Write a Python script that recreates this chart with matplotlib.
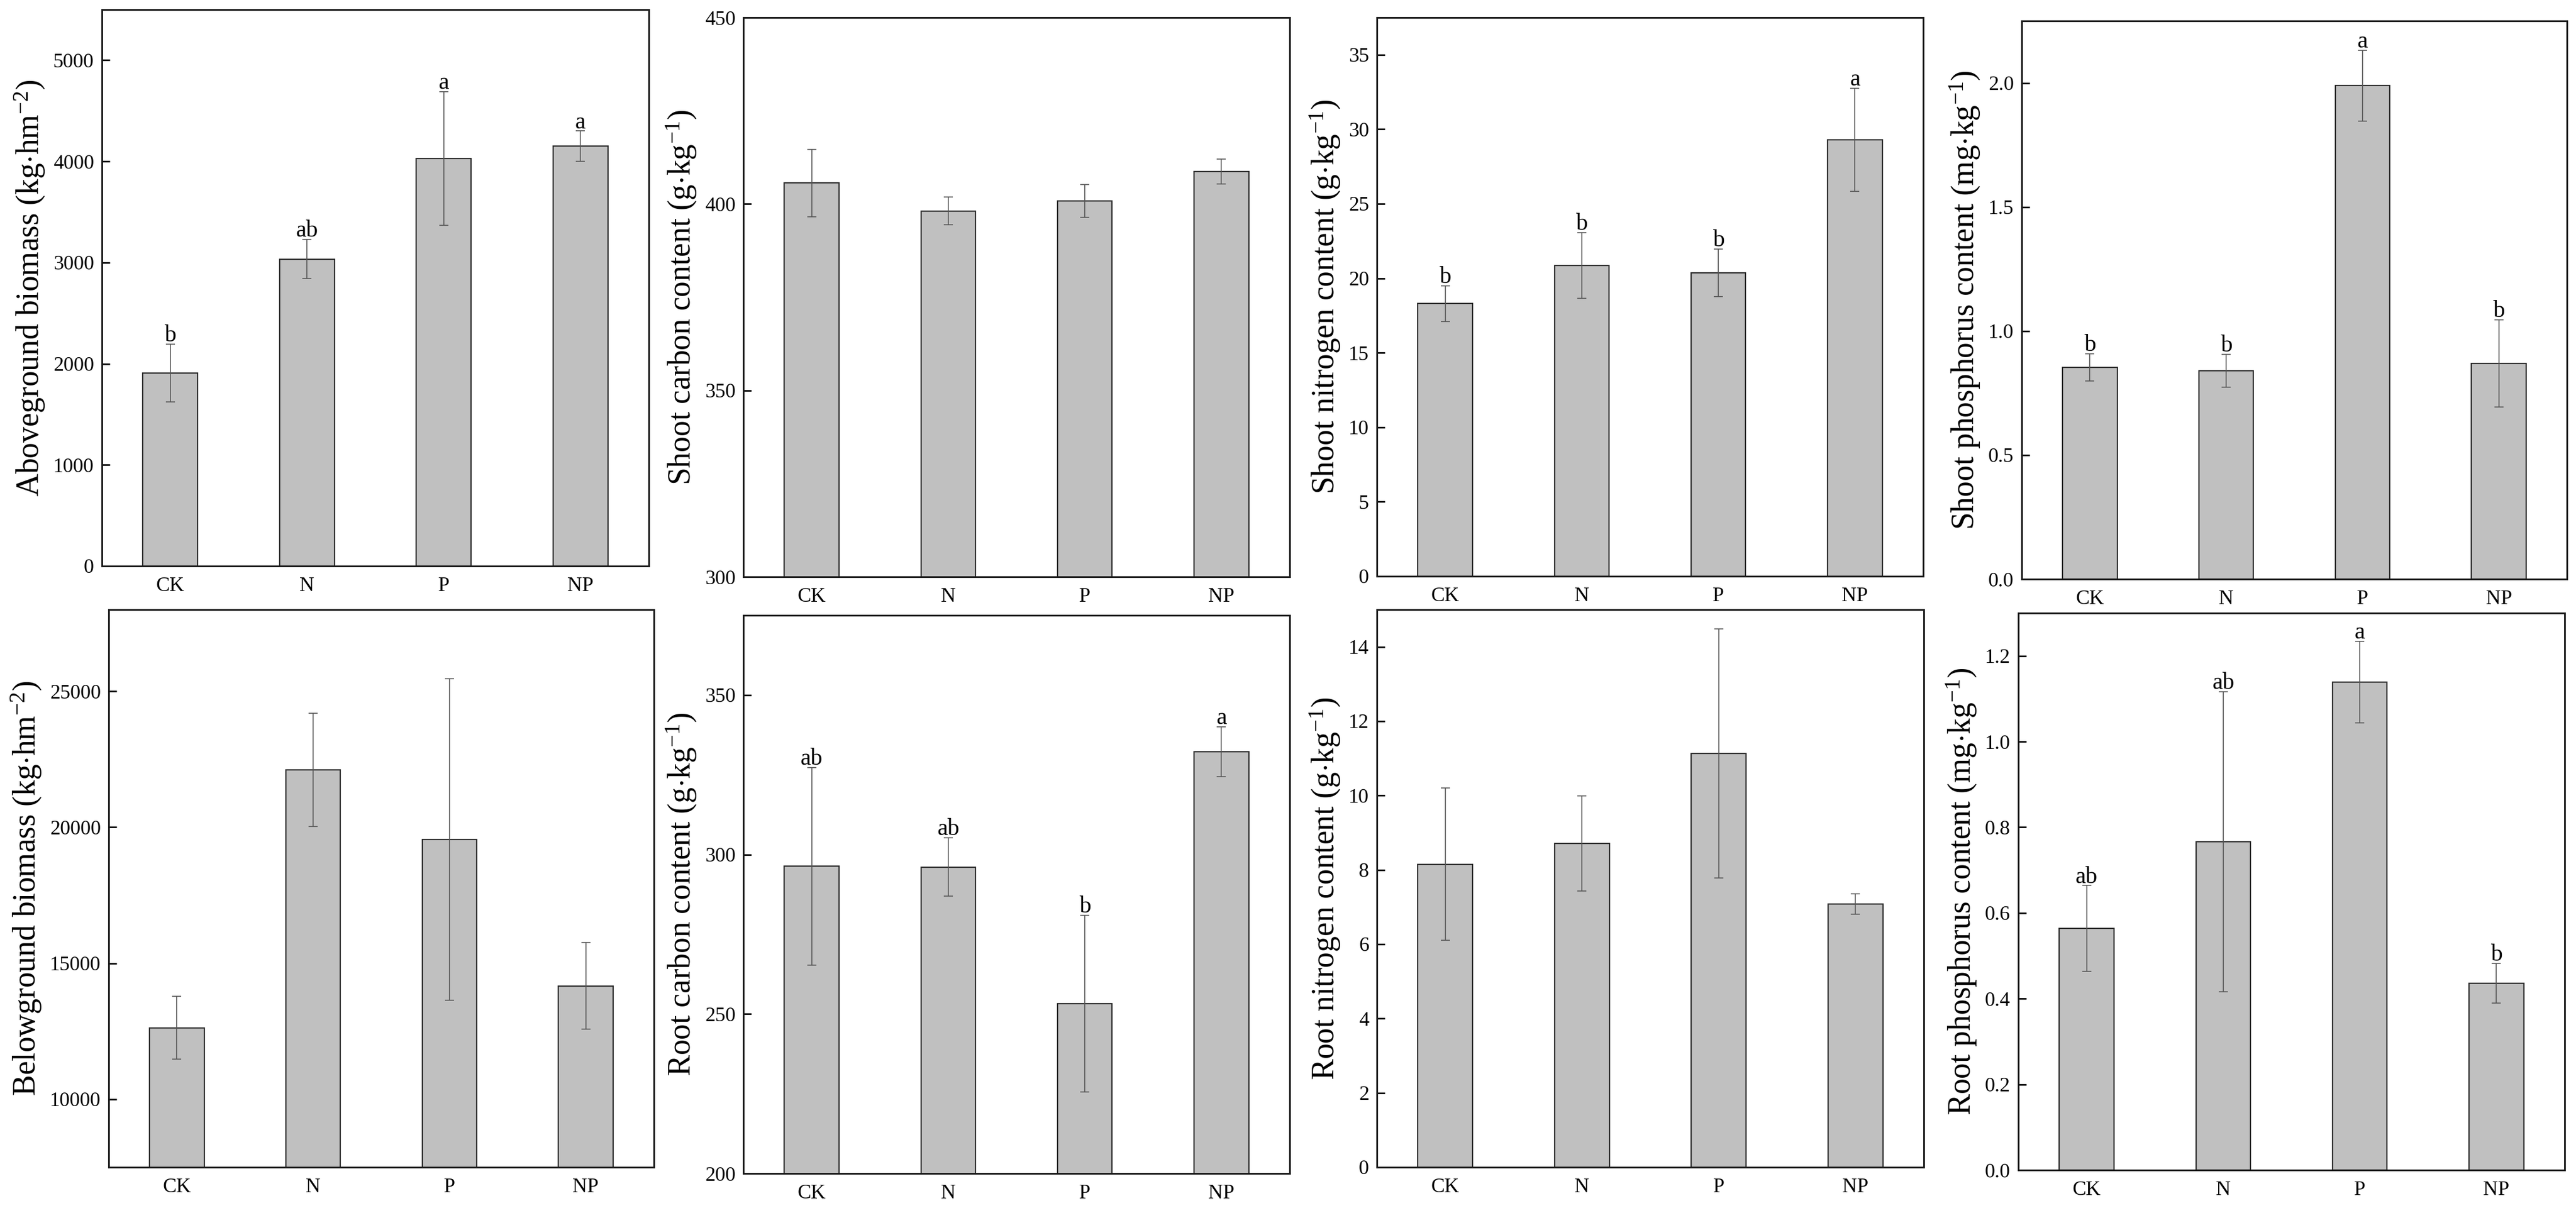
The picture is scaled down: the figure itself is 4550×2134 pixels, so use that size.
# Shoot / root biomass and C, N, P contents under fertilisation treatments
# 2 x 4 bar panels with standard-error bars and significance letters.

import matplotlib
matplotlib.use("Agg")
import matplotlib.pyplot as plt

plt.rcParams["font.family"] = ["Liberation Serif", "DejaVu Serif"]
plt.rcParams["mathtext.fontset"] = "custom"
plt.rcParams["mathtext.rm"] = "Liberation Serif"
plt.rcParams["mathtext.it"] = "Liberation Serif:italic"

# ---------------------------------------------------------------------------
# Data
# ---------------------------------------------------------------------------
treatments = ["CK", "N", "P", "NP"]

above_mean = [1910, 3035, 4030, 4150]
above_err = [285, 195, 660, 150]
above_sig = ["b", "ab", "a", "a"]

shoot_c_mean = [405.6, 398.1, 400.8, 408.7]
shoot_c_err = [9.1, 3.7, 4.4, 3.3]

shoot_n_mean = [18.3, 20.85, 20.35, 29.3]
shoot_n_err = [1.2, 2.2, 1.6, 3.45]
shoot_n_sig = ["b", "b", "b", "a"]

shoot_p_mean = [0.854, 0.840, 1.989, 0.870]
shoot_p_err = [0.055, 0.066, 0.143, 0.176]
shoot_p_sig = ["b", "b", "a", "b"]

below_mean = [12630, 22110, 19550, 14170]
below_err = [1150, 2080, 5920, 1590]

root_c_mean = [296.3, 296.1, 253.3, 332.2]
root_c_err = [31.0, 9.1, 27.7, 7.8]
root_c_sig = ["ab", "ab", "b", "a"]

root_n_mean = [8.15, 8.71, 11.13, 7.08]
root_n_err = [2.05, 1.28, 3.35, 0.28]

root_p_mean = [0.564, 0.766, 1.139, 0.436]
root_p_err = [0.10, 0.35, 0.095, 0.046]
root_p_sig = ["ab", "ab", "a", "b"]

# ---------------------------------------------------------------------------
# Layout (pixel boxes: left, right, top, bottom)
# ---------------------------------------------------------------------------
W, H = 4550, 2134
DPI = 200

panels = [
    dict(box=(180, 1146, 17, 1000), mean=above_mean, err=above_err, sig=above_sig,
         ylim=(0, 5500), ticks=[0, 1000, 2000, 3000, 4000, 5000], fmt="{:.0f}",
         label=r"Aboveground biomass (kg$\cdot$hm$^{-2}$)"),
    dict(box=(1313, 2278, 31, 1019), mean=shoot_c_mean, err=shoot_c_err, sig=None,
         ylim=(300, 450), ticks=[300, 350, 400, 450], fmt="{:.0f}",
         label=r"Shoot carbon content (g$\cdot$kg$^{-1}$)"),
    dict(box=(2432, 3397, 31, 1018), mean=shoot_n_mean, err=shoot_n_err, sig=shoot_n_sig,
         ylim=(0, 37.5), ticks=[0, 5, 10, 15, 20, 25, 30, 35], fmt="{:.0f}",
         label=r"Shoot nitrogen content (g$\cdot$kg$^{-1}$)"),
    dict(box=(3571, 4534, 37, 1023), mean=shoot_p_mean, err=shoot_p_err, sig=shoot_p_sig,
         ylim=(0, 2.25), ticks=[0.0, 0.5, 1.0, 1.5, 2.0], fmt="{:.1f}",
         label=r"Shoot phosphorus content (mg$\cdot$kg$^{-1}$)"),
    dict(box=(192, 1155, 1077, 2062), mean=below_mean, err=below_err, sig=None,
         ylim=(7500, 28000), ticks=[10000, 15000, 20000, 25000], fmt="{:.0f}",
         label=r"Belowground biomass (kg$\cdot$hm$^{-2}$)"),
    dict(box=(1313, 2278, 1087, 2073), mean=root_c_mean, err=root_c_err, sig=root_c_sig,
         ylim=(200, 375), ticks=[200, 250, 300, 350], fmt="{:.0f}",
         label=r"Root carbon content (g$\cdot$kg$^{-1}$)"),
    dict(box=(2432, 3398, 1077, 2062), mean=root_n_mean, err=root_n_err, sig=None,
         ylim=(0, 15), ticks=[0, 2, 4, 6, 8, 10, 12, 14], fmt="{:.0f}",
         label=r"Root nitrogen content (g$\cdot$kg$^{-1}$)"),
    dict(box=(3565, 4530, 1083, 2067), mean=root_p_mean, err=root_p_err, sig=root_p_sig,
         ylim=(0, 1.3), ticks=[0.0, 0.2, 0.4, 0.6, 0.8, 1.0, 1.2], fmt="{:.1f}",
         label=r"Root phosphorus content (mg$\cdot$kg$^{-1}$)"),
]


def draw_panel(fig, p):
    left, right, top, bottom = p["box"]
    ax = fig.add_axes([left / W, 1 - bottom / H, (right - left) / W, (bottom - top) / H])
    x = list(range(1, len(treatments) + 1))
    ax.bar(x, p["mean"], width=0.4, color="#c0c0c0", edgecolor="#2a2a2a",
           linewidth=0.8, zorder=2)
    ax.errorbar(x, p["mean"], yerr=p["err"], fmt="none", ecolor="#555555",
                elinewidth=0.6, capsize=3, capthick=0.6, zorder=3)
    if p["sig"]:
        for xi, m, e, s in zip(x, p["mean"], p["err"], p["sig"]):
            ax.annotate(s, (xi, m + e), xytext=(0, -1.5), textcoords="offset points",
                        ha="center", va="bottom", fontsize=15)
    ax.set_xlim(0.5, 4.5)
    ax.set_ylim(*p["ylim"])
    ax.set_xticks(x)
    ax.set_xticklabels(treatments)
    ax.set_yticks(p["ticks"])
    ax.set_yticklabels([p["fmt"].format(t) for t in p["ticks"]])
    ax.tick_params(axis="x", length=0, labelsize=13, pad=7)
    ax.tick_params(axis="y", direction="in", length=5, width=1, labelsize=13, pad=5)
    for sp in ax.spines.values():
        sp.set_linewidth(1.1)
        sp.set_color("#1a1a1a")
    ax.set_ylabel(p["label"], fontsize=20, labelpad=4)
    return ax


fig = plt.figure(figsize=(W / DPI, H / DPI), dpi=DPI)
for panel in panels:
    draw_panel(fig, panel)

fig.savefig("out.png", dpi=DPI, facecolor="white")
